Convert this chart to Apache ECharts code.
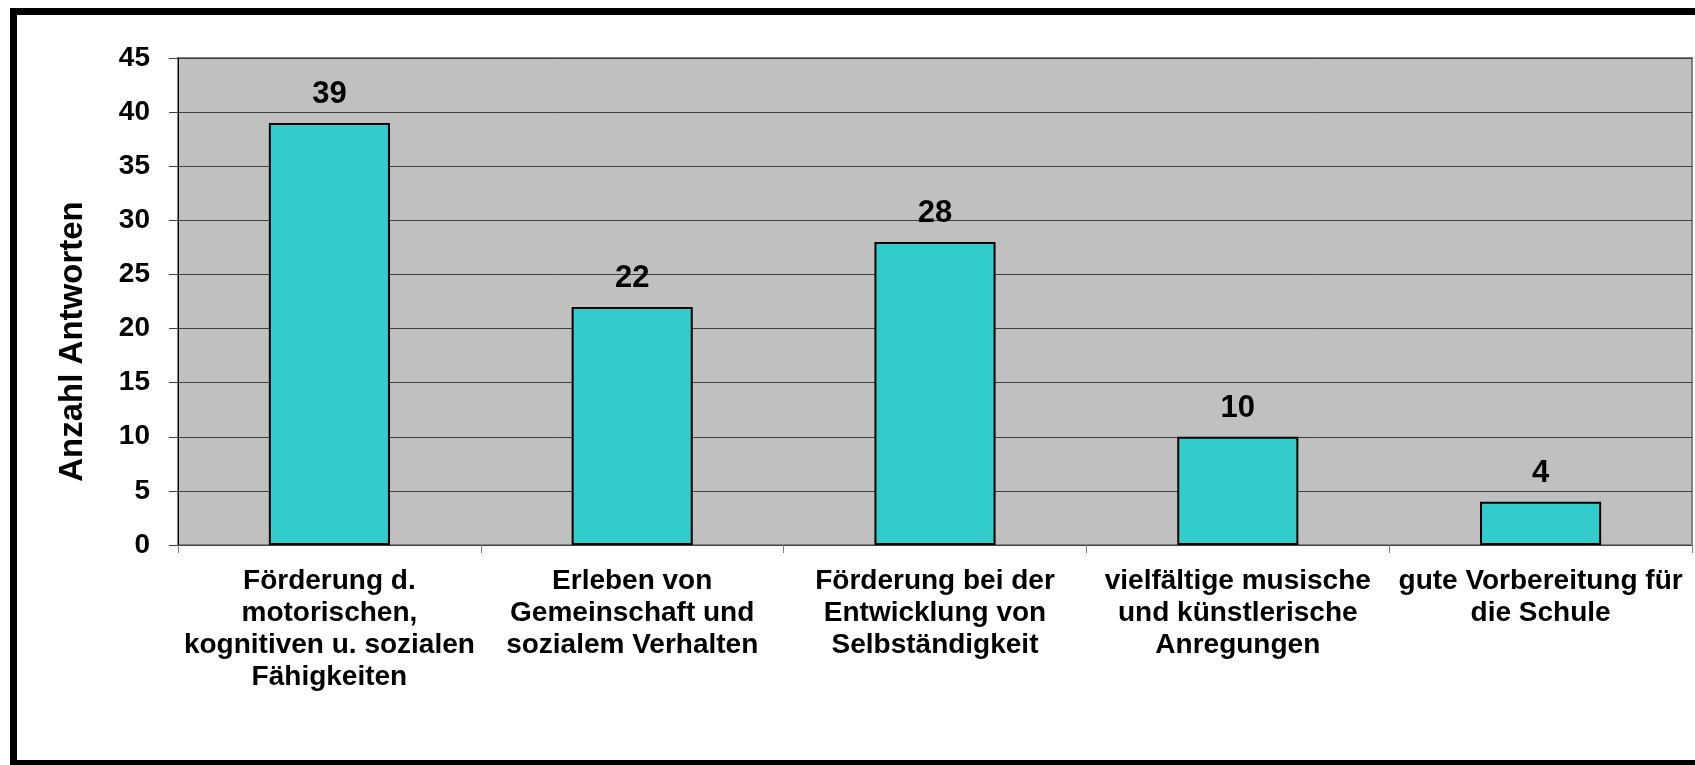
<!DOCTYPE html>
<html>
<head>
<meta charset="utf-8">
<title>Anzahl Antworten</title>
<script src="https://cdn.jsdelivr.net/npm/echarts@6/dist/echarts.min.js"></script>
<style>
  html, body { margin: 0; padding: 0; background: #fff; }
  #chart { width: 1695px; height: 765px; }
</style>
</head>
<body>
<div id="chart"></div>
<script>
const categories = [
  'Förderung d.\nmotorischen,\nkognitiven u. sozialen\nFähigkeiten',
  'Erleben von\nGemeinschaft und\nsozialem Verhalten',
  'Förderung bei der\nEntwicklung von\nSelbständigkeit',
  'vielfältige musische\nund künstlerische\nAnregungen',
  'gute Vorbereitung für\ndie Schule'
]
const answers = [39, 22, 28, 10, 4]
const yMin = 0
const yMax = 45
const yStep = 5

const font = 'Liberation Sans, Arial, sans-serif'

const chart = echarts.init(document.getElementById('chart'))

const option = {
  animation: false,
  backgroundColor: '#fff',
  textStyle: { fontFamily: font },
  graphic: [
    {
      type: 'rect',
      shape: { x: 13.5, y: 11.5, width: 1720, height: 752 },
      style: { fill: 'none', stroke: '#000', lineWidth: 7 },
      z: 100
    }
  ],
  grid: {
    left: 178,
    top: 58,
    right: 3,
    bottom: 220,
    show: true,
    backgroundColor: '#C0C0C0',
    borderColor: '#808080',
    borderWidth: 2
  },
  xAxis: {
    type: 'category',
    data: categories,
    axisLine: { show: true, lineStyle: { color: '#404040', width: 1 } },
    axisTick: {
      show: true,
      alignWithLabel: false,
      length: 8,
      lineStyle: { color: '#808080', width: 1 }
    },
    axisLabel: {
      interval: 0,
      margin: 20,
      color: '#000',
      fontFamily: font,
      fontWeight: 'bold',
      fontSize: 28,
      lineHeight: 32,
      align: 'center'
    }
  },
  yAxis: {
    type: 'value',
    min: yMin,
    max: yMax,
    interval: yStep,
    name: 'Anzahl Antworten',
    nameLocation: 'middle',
    nameGap: 89,
    nameTextStyle: {
      color: '#000',
      fontFamily: font,
      fontWeight: 'bold',
      fontSize: 33,
      // the title sits a bit below the middle of the axis
      padding: [0, 80, 0, 0]
    },
    axisLine: { show: true, lineStyle: { color: '#000', width: 1 } },
    axisTick: { show: true, length: 9, lineStyle: { color: '#404040', width: 1 } },
    axisLabel: {
      margin: 28,
      color: '#000',
      fontFamily: font,
      fontWeight: 'bold',
      fontSize: 28
    },
    splitLine: { show: true, lineStyle: { color: '#404040', width: 1 } }
  },
  series: [
    {
      type: 'bar',
      data: answers,
      barWidth: '40%',
      itemStyle: {
        color: '#33CCCC',
        borderColor: '#000',
        borderWidth: 2
      },
      label: {
        show: true,
        position: 'top',
        distance: 13,
        color: '#000',
        fontFamily: font,
        fontWeight: 'bold',
        fontSize: 31
      }
    }
  ]
}

chart.setOption(option)
window.addEventListener('resize', () => chart.resize())
</script>
</body>
</html>
